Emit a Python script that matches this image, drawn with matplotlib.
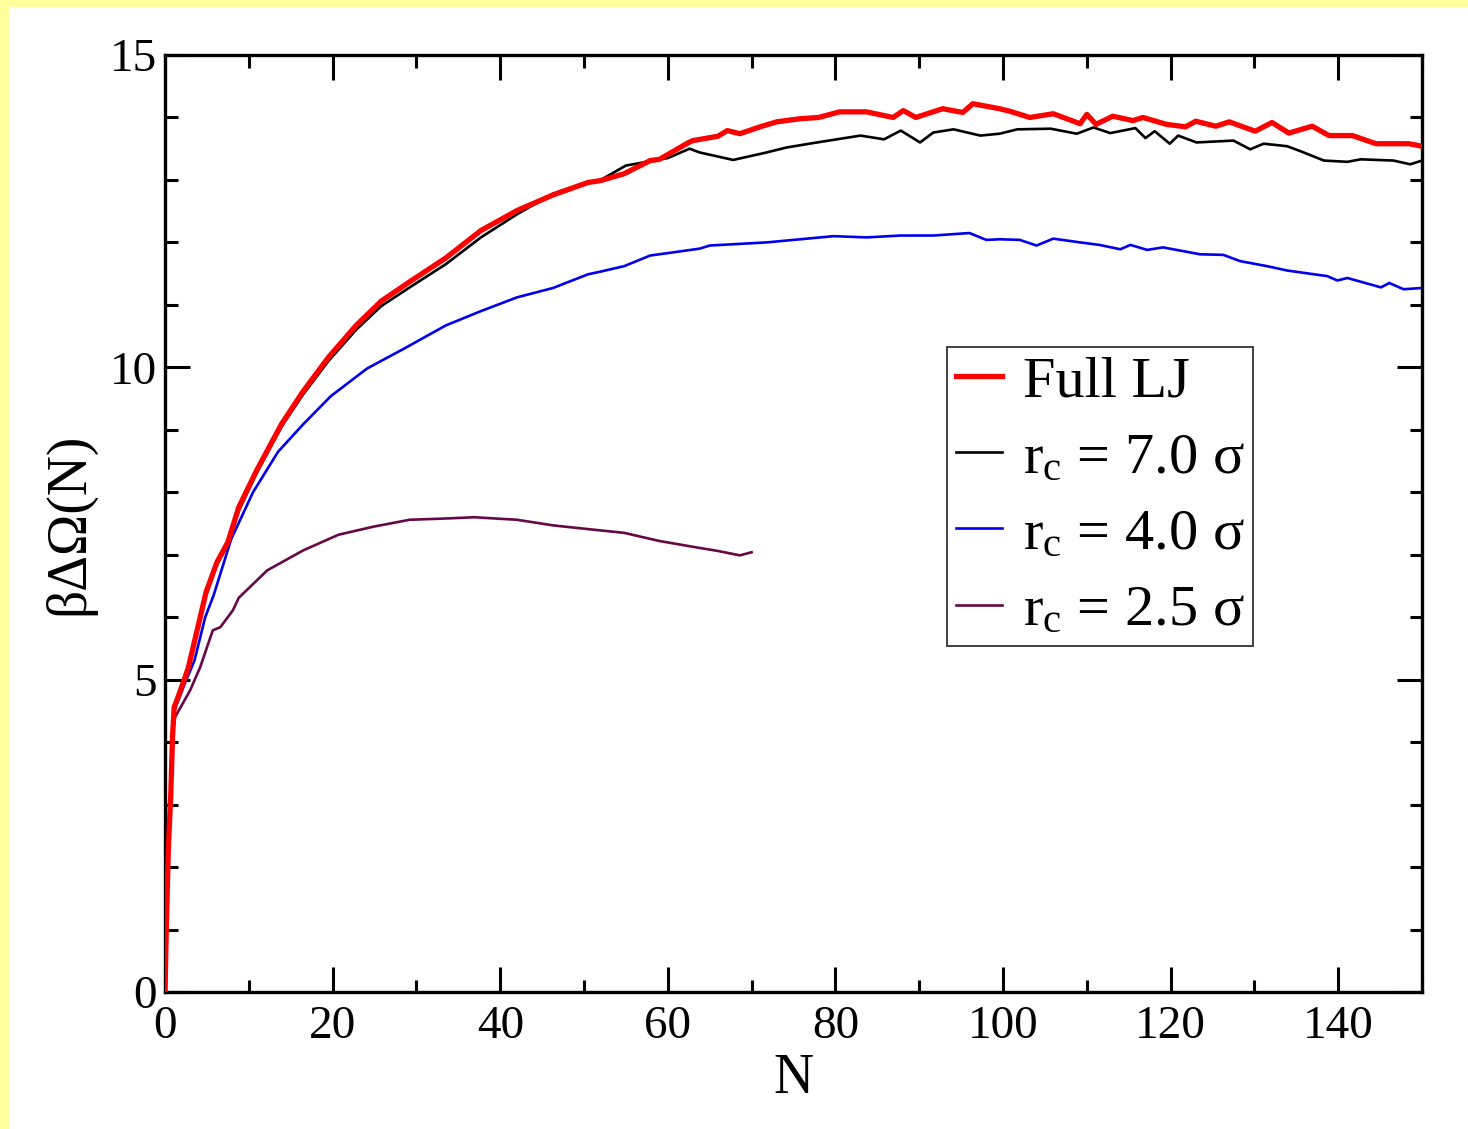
import matplotlib
matplotlib.use("Agg")
import matplotlib.pyplot as plt
from matplotlib.patches import Rectangle
from matplotlib.ticker import MultipleLocator

# ---------------- data ----------------
n_full = [0, 0.15, 0.4, 0.7, 0.9, 1.1, 1.5, 2.4, 2.8, 3.5, 4.9, 6.2, 7.5, 8.8, 10.9,
          13.9, 16.4, 19.5, 22.8, 25.8, 29.2, 33.5, 37.7, 42, 46.3, 50.5, 52, 54.8,
          57.9, 59, 62.5, 63, 66, 67.1, 68.6, 71, 73, 75.8, 78, 80.5, 83.7, 86.9, 88.1,
          89.6, 92.8, 95.2, 96.4, 99.6, 100.8, 103.2, 106, 109.2, 110, 111.1, 113.1,
          115.5, 116.7, 119.5, 121.8, 123, 125.4, 127, 130.1, 132.1, 134.1, 136.9,
          138.9, 141.7, 144.5, 148.4, 150]
v_full = [0, 1.0, 2.3, 3.2, 4.1, 4.56, 4.7, 5.04, 5.2, 5.6, 6.4, 6.88, 7.2, 7.76, 8.34,
          9.09, 9.6, 10.16, 10.67, 11.06, 11.37, 11.75, 12.19, 12.51, 12.76, 12.96, 12.99,
          13.1, 13.31, 13.33, 13.6, 13.63, 13.7, 13.79, 13.74, 13.85, 13.93, 13.98, 14.0,
          14.09, 14.09, 14.0, 14.11, 14.0, 14.14, 14.08, 14.22, 14.14, 14.1, 14.0, 14.06,
          13.9, 14.05, 13.89, 14.02, 13.95, 14.0, 13.89, 13.85, 13.94, 13.86, 13.93,
          13.78, 13.92, 13.75, 13.86, 13.71, 13.71, 13.58, 13.58, 13.54]

n_rc70 = [0, 0.15, 0.4, 0.7, 0.9, 1.1, 2.4, 3.5, 4.9, 6.2, 7.5, 8.8, 10.9, 13.9, 16.4,
          19.5, 22.8, 25.8, 29.2, 33.5, 37.7, 42, 46.3, 50.5, 52, 55, 57.9, 60, 62.6,
          63.8, 67.8, 71.8, 74.2, 77.8, 83, 85.8, 87.8, 90.1, 91.7, 94.1, 97.3, 99.6,
          101.7, 105.7, 108.8, 110.8, 112.8, 115.8, 117, 118.1, 119.9, 120.9, 123.1,
          127.5, 129.5, 131.1, 133.9, 135.5, 138.3, 141.1, 142.7, 146.6, 148.6, 150]
v_rc70 = [0, 1.0, 2.3, 3.2, 4.1, 4.56, 5.0, 5.55, 6.35, 6.85, 7.15, 7.7, 8.3, 9.05, 9.55,
          10.1, 10.6, 10.98, 11.28, 11.65, 12.08, 12.45, 12.78, 12.97, 13.0, 13.23, 13.3,
          13.35, 13.5, 13.44, 13.32, 13.44, 13.52, 13.6, 13.71, 13.65, 13.79, 13.6, 13.76,
          13.81, 13.71, 13.74, 13.81, 13.82, 13.74, 13.84, 13.75, 13.83, 13.67, 13.78,
          13.58, 13.71, 13.6, 13.63, 13.49, 13.58, 13.54, 13.46, 13.31, 13.29, 13.33,
          13.31, 13.25, 13.31]

n_rc40 = [0, 0.15, 0.4, 0.7, 0.9, 1.1, 2.4, 3.5, 4.8, 5.8, 7.9, 10.5, 13.5, 16.5, 19.8,
          24.1, 28.4, 33.5, 37.7, 42, 46.3, 50.5, 51.9, 54.8, 57.9, 59, 63.8, 65, 71.8,
          79.8, 83.7, 87.8, 91.7, 96, 98, 99.6, 102, 104, 106, 109.2, 111.5, 114, 115.2,
          117.2, 119.1, 123.5, 126.3, 128.3, 131.5, 133.9, 138.7, 139.9, 141.1, 145.1,
          146.1, 147.8, 150]
v_rc40 = [0, 1.0, 2.3, 3.2, 4.1, 4.5, 4.95, 5.3, 6.0, 6.35, 7.25, 8.0, 8.65, 9.09, 9.54,
          9.98, 10.29, 10.67, 10.9, 11.12, 11.27, 11.49, 11.53, 11.62, 11.79, 11.81, 11.9,
          11.95, 12.0, 12.1, 12.08, 12.11, 12.11, 12.15, 12.04, 12.05, 12.04, 11.95, 12.06,
          12.0, 11.96, 11.89, 11.96, 11.88, 11.92, 11.81, 11.8, 11.7, 11.62, 11.55, 11.46,
          11.39, 11.43, 11.28, 11.35, 11.25, 11.27]

n_rc25 = [0, 0.15, 0.4, 0.7, 0.9, 1.2, 3, 4.2, 5.7, 6.6, 8.1, 8.8, 12.2, 16.5, 20.7, 24.9,
          29.2, 33.5, 36.9, 42, 46.3, 50.5, 54.8, 59, 63.3, 66, 68.6, 70]
v_rc25 = [0, 1.0, 2.3, 3.2, 4.1, 4.4, 4.83, 5.2, 5.79, 5.84, 6.11, 6.31, 6.75, 7.07, 7.32,
          7.45, 7.56, 7.58, 7.6, 7.56, 7.47, 7.41, 7.35, 7.22, 7.12, 7.06, 6.99, 7.04]

labels = ["Full LJ", r"r$_\mathrm{c}$ = 7.0 σ", r"r$_\mathrm{c}$ = 4.0 σ", r"r$_\mathrm{c}$ = 2.5 σ"]
xticks = [0, 20, 40, 60, 80, 100, 120, 140]
yticks = [0, 5, 10, 15]

# ---------------- style ----------------
plt.rcParams['font.family'] = ['Liberation Serif', 'DejaVu Serif']
plt.rcParams['mathtext.fontset'] = 'custom'
plt.rcParams['mathtext.rm'] = 'Liberation Serif'
plt.rcParams['mathtext.it'] = 'Liberation Serif:italic'

W, H = 1468, 1129
fig = plt.figure(figsize=(W / 100, H / 100), dpi=100, facecolor='#ffff9e')
bg = Rectangle((9 / W, 0), 1, 1 - 7 / H, transform=fig.transFigure,
               facecolor='white', edgecolor='none', zorder=-10)
fig.add_artist(bg)

ax = fig.add_axes([165 / W, 1 - 992 / H, (1422 - 165) / W, (992 - 55) / H])
ax.set_facecolor('white')
ax.set_zorder(1)

l_black, = ax.plot(n_rc70, v_rc70, color='black', lw=1.9, zorder=3)
l_blue, = ax.plot(n_rc40, v_rc40, color='#0000ee', lw=1.9, zorder=3)
l_maroon, = ax.plot(n_rc25, v_rc25, color='#670748', lw=1.9, zorder=3)
l_red, = ax.plot(n_full, v_full, color='#ff0000', lw=3.8, zorder=4)

ax.set_xlim(0, 150)
ax.set_ylim(0, 15)
ax.set_xticks(xticks)
ax.set_yticks(yticks)
ax.xaxis.set_minor_locator(MultipleLocator(10))
ax.yaxis.set_minor_locator(MultipleLocator(1))
ax.tick_params(which='both', direction='in', top=True, right=True, width=2.2)
ax.tick_params(which='major', length=18, labelsize=34)
ax.tick_params(axis='x', which='major', pad=10)
ax.tick_params(axis='y', which='major', pad=6)
ax.tick_params(which='minor', length=9)
for s in ax.spines.values():
    s.set_linewidth(2.4)

ax.set_xlabel("N", fontsize=40, labelpad=3)
ax.set_ylabel("βΔΩ(N)", fontsize=40, labelpad=10)

leg = ax.legend([l_red, l_black, l_blue, l_maroon], labels, loc='upper left',
                bbox_to_anchor=((947 - 165) / (1422 - 165), (992 - 347) / (992 - 55)),
                borderaxespad=0, fontsize=42, handlelength=0.8, handletextpad=0.35,
                labelspacing=0.4, borderpad=0.15, fancybox=False, frameon=True)
leg.get_frame().set_edgecolor('black')
leg.get_frame().set_linewidth(1.3)

fig.savefig("out.png", dpi=100, facecolor=fig.get_facecolor())
